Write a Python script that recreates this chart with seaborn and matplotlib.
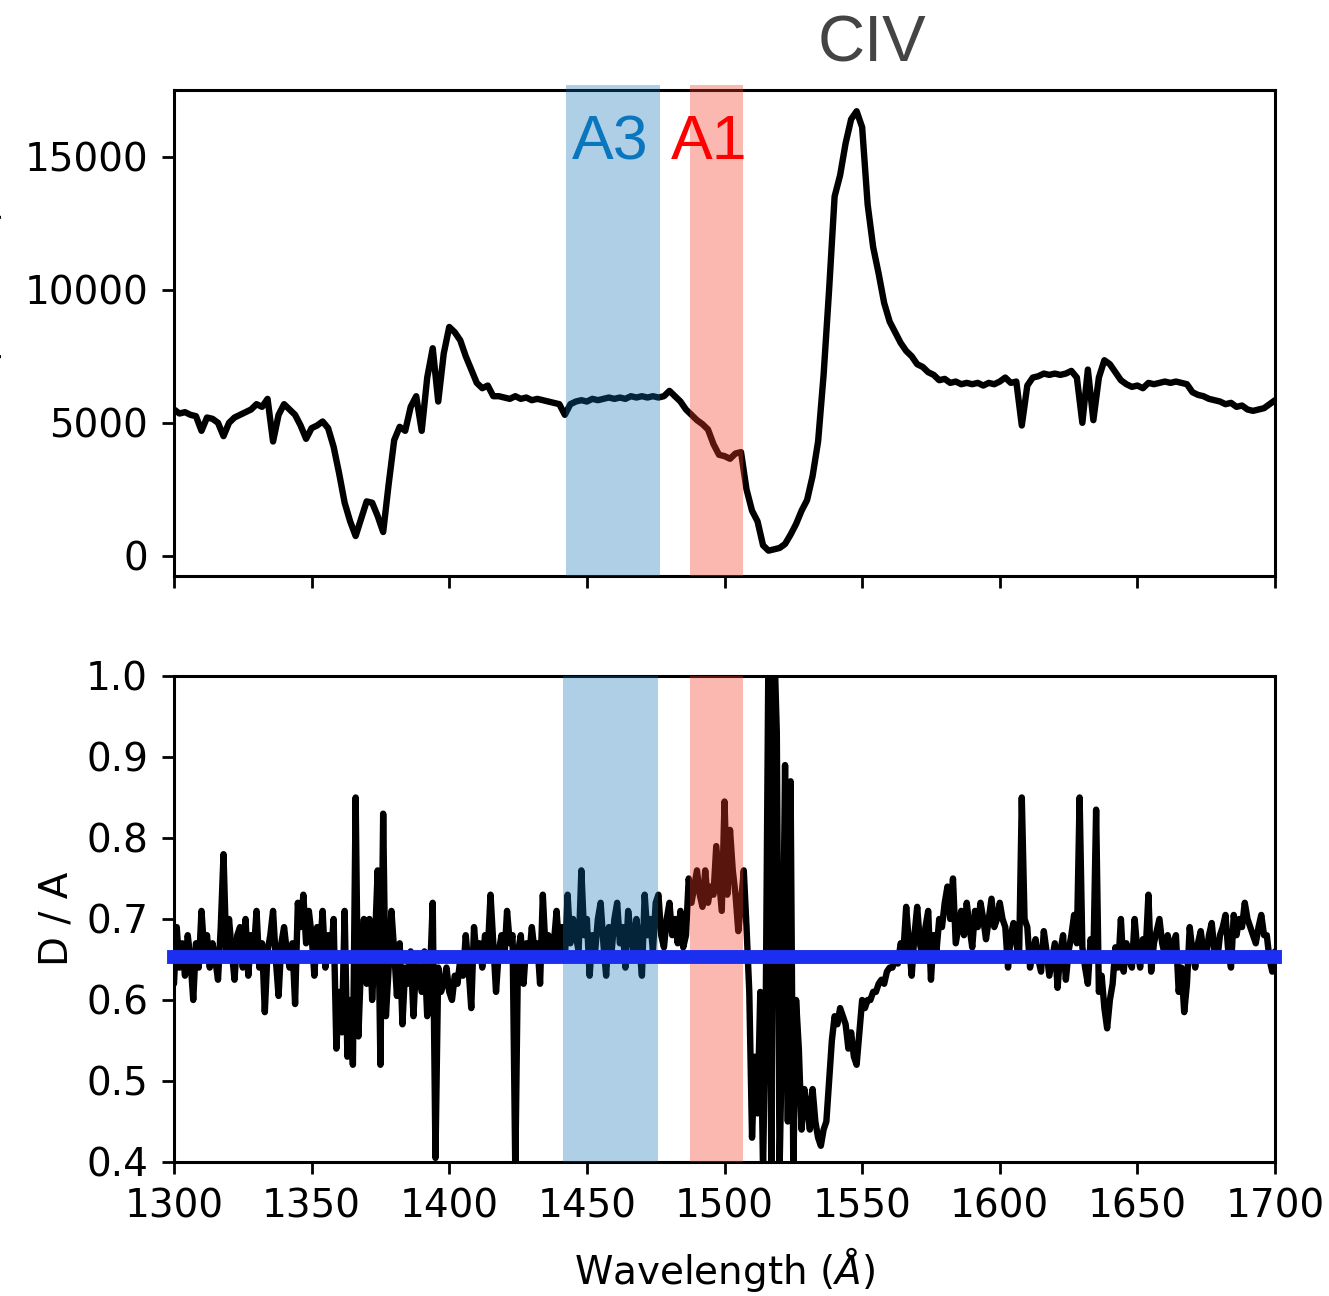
import numpy as np
import matplotlib
matplotlib.use('Agg')
import matplotlib.pyplot as plt
import seaborn as sns

# spectrum (top panel), sampled every 2 A
wave_top = np.arange(1300, 1701, 2)
flux = np.array([
    5500, 5350, 5400, 5300, 5250, 4700, 5200, 5150, 5000, 4500,
    5000, 5200, 5300, 5400, 5500, 5700, 5600, 5900, 4300, 5300,
    5700, 5500, 5300, 4900, 4400, 4800, 4900, 5050, 4800, 4100,
    3100, 2000, 1300, 750, 1400, 2050, 2000, 1500, 900, 2700,
    4350, 4850, 4700, 5600, 6000, 4700, 6700, 7800, 5800, 7600,
    8600, 8400, 8100, 7500, 7000, 6500, 6300, 6400, 6000, 6000,
    5950, 5900, 6000, 5900, 5950, 5850, 5900, 5850, 5800, 5750,
    5700, 5300, 5700, 5800, 5850, 5800, 5900, 5850, 5900, 5950,
    5900, 5950, 5900, 6000, 5950, 6000, 5950, 6000, 5950, 6000,
    6200, 6000, 5800, 5500, 5300, 5100, 4950, 4750, 4200, 3800,
    3750, 3650, 3850, 3900, 2500, 1700, 1300, 400, 200, 250,
    300, 450, 800, 1200, 1700, 2100, 3000, 4300, 6800, 10000,
    13500, 14300, 15500, 16400, 16700, 16100, 13200, 11600, 10600, 9500,
    8800, 8400, 8000, 7700, 7500, 7200, 7100, 6900, 6800, 6600,
    6650, 6500, 6550, 6450, 6500, 6450, 6500, 6400, 6500, 6450,
    6550, 6700, 6500, 6550, 4900, 6400, 6700, 6750, 6850, 6800,
    6850, 6800, 6850, 6950, 6700, 5000, 7000, 5100, 6700, 7350,
    7200, 6900, 6600, 6450, 6350, 6400, 6300, 6500, 6450, 6500,
    6550, 6500, 6550, 6500, 6450, 6150, 6050, 6000, 5900, 5850,
    5800, 5700, 5750, 5600, 5650, 5500, 5450, 5500, 5550, 5700,
    5850,
])

# D / A ratio (bottom panel), sampled every 1 A
wave_bot = np.arange(1300, 1701, 1)
ratio = np.array([
    0.62, 0.69, 0.64, 0.67, 0.63, 0.68, 0.65, 0.60, 0.67, 0.64, 0.71, 0.66, 0.68, 0.64, 0.67, 0.65, 0.625, 0.69, 0.78, 0.66,
    0.70, 0.66, 0.625, 0.68, 0.69, 0.64, 0.70, 0.63, 0.68, 0.66, 0.71, 0.64, 0.67, 0.585, 0.66, 0.68, 0.71, 0.65, 0.605, 0.67,
    0.69, 0.66, 0.64, 0.67, 0.595, 0.72, 0.69, 0.73, 0.67, 0.71, 0.68, 0.63, 0.69, 0.66, 0.71, 0.64, 0.68, 0.65, 0.70, 0.54,
    0.61, 0.56, 0.71, 0.53, 0.60, 0.52, 0.85, 0.555, 0.65, 0.70, 0.62, 0.70, 0.60, 0.67, 0.76, 0.52, 0.83, 0.58, 0.64, 0.71,
    0.66, 0.605, 0.67, 0.57, 0.64, 0.62, 0.66, 0.58, 0.65, 0.63, 0.61, 0.66, 0.58, 0.63, 0.72, 0.405, 0.64, 0.61, 0.62, 0.64,
    0.61, 0.60, 0.63, 0.62, 0.65, 0.63, 0.68, 0.64, 0.59, 0.69, 0.65, 0.67, 0.64, 0.68, 0.66, 0.73, 0.67, 0.61, 0.66, 0.68,
    0.65, 0.71, 0.67, 0.68, 0.39, 0.66, 0.68, 0.62, 0.67, 0.65, 0.69, 0.66, 0.67, 0.62, 0.73, 0.66, 0.68, 0.65, 0.67, 0.71,
    0.66, 0.69, 0.65, 0.73, 0.67, 0.70, 0.68, 0.66, 0.76, 0.68, 0.70, 0.63, 0.68, 0.66, 0.70, 0.72, 0.67, 0.63, 0.69, 0.66,
    0.70, 0.72, 0.67, 0.69, 0.64, 0.71, 0.68, 0.66, 0.70, 0.67, 0.63, 0.73, 0.68, 0.70, 0.66, 0.72, 0.73, 0.68, 0.665, 0.70,
    0.72, 0.68, 0.70, 0.67, 0.71, 0.665, 0.68, 0.75, 0.72, 0.74, 0.76, 0.73, 0.715, 0.76, 0.72, 0.74, 0.73, 0.79, 0.75, 0.71,
    0.845, 0.73, 0.81, 0.76, 0.73, 0.685, 0.72, 0.76, 0.69, 0.61, 0.43, 0.53, 0.46, 0.61, 0.39, 0.60, 1.05, 0.39, 1.05, 0.93,
    0.39, 0.57, 0.89, 0.45, 0.87, 0.39, 0.60, 0.54, 0.44, 0.49, 0.47, 0.44, 0.49, 0.45, 0.43, 0.42, 0.44, 0.45, 0.50, 0.55,
    0.58, 0.57, 0.59, 0.58, 0.57, 0.54, 0.56, 0.53, 0.52, 0.56, 0.60, 0.59, 0.60, 0.60, 0.61, 0.61, 0.62, 0.625, 0.62, 0.635,
    0.64, 0.64, 0.65, 0.645, 0.67, 0.66, 0.715, 0.67, 0.63, 0.68, 0.715, 0.67, 0.65, 0.69, 0.71, 0.625, 0.68, 0.66, 0.70, 0.69,
    0.72, 0.74, 0.70, 0.75, 0.67, 0.69, 0.71, 0.68, 0.72, 0.69, 0.665, 0.71, 0.69, 0.72, 0.70, 0.675, 0.70, 0.725, 0.69, 0.70,
    0.72, 0.70, 0.69, 0.64, 0.68, 0.695, 0.67, 0.65, 0.85, 0.70, 0.69, 0.64, 0.66, 0.675, 0.65, 0.635, 0.685, 0.66, 0.63, 0.65,
    0.67, 0.615, 0.66, 0.68, 0.625, 0.66, 0.68, 0.705, 0.67, 0.85, 0.665, 0.64, 0.62, 0.675, 0.65, 0.835, 0.61, 0.63, 0.59, 0.565,
    0.60, 0.62, 0.665, 0.64, 0.70, 0.635, 0.67, 0.65, 0.64, 0.70, 0.66, 0.64, 0.675, 0.66, 0.73, 0.635, 0.67, 0.685, 0.70, 0.67,
    0.655, 0.68, 0.66, 0.67, 0.68, 0.61, 0.64, 0.585, 0.62, 0.69, 0.66, 0.64, 0.67, 0.685, 0.66, 0.655, 0.68, 0.695, 0.66, 0.65,
    0.68, 0.69, 0.705, 0.66, 0.64, 0.705, 0.68, 0.70, 0.69, 0.72, 0.70, 0.69, 0.68, 0.67, 0.69, 0.705, 0.68, 0.68, 0.65, 0.635,
    0.66,
])

mean_ratio = 0.653
a3_top = (1442.4, 1476.6)
a1_top = (1487.5, 1506.7)
a3_bot = (1441.3, 1475.8)
a1_bot = (1487.5, 1506.7)

blue_span = '#0a6eb0'
red_span = '#f53c26'

sns.set_style('ticks')
plt.rcParams['font.family'] = ['DejaVu Sans']
plt.rcParams.update({
    'axes.edgecolor': 'black', 'axes.linewidth': 1.1,
    'xtick.color': 'black', 'ytick.color': 'black',
    'xtick.major.size': 4.3, 'ytick.major.size': 4.3,
    'xtick.major.width': 1.0, 'ytick.major.width': 1.0,
    'xtick.major.pad': 5, 'ytick.major.pad': 5,
    'xtick.labelsize': 14, 'ytick.labelsize': 14,
    'axes.labelsize': 14, 'axes.labelcolor': 'black', 'text.color': 'black',
})

fig, (ax1, ax2) = plt.subplots(2, 1, sharex=True, figsize=(6.645, 6.48), dpi=200)
plt.subplots_adjust(left=0.1309, right=0.9594, top=0.9306, bottom=0.1034, hspace=0.2058)

sns.lineplot(x=wave_top, y=flux, ax=ax1, color='black', linewidth=2.3)
ax1.axvspan(*a3_top, ymin=0, ymax=1.01, color=blue_span, alpha=0.33, lw=0, zorder=3, clip_on=False)
ax1.axvspan(*a1_top, ymin=0, ymax=1.01, color=red_span, alpha=0.36, lw=0, zorder=3, clip_on=False)
ax1.set_ylim(-750, 17500)
ax1.set_yticks([0, 5000, 10000, 15000])
# the reference crops this label at the left edge of the figure
ax1.set_ylabel('Flux (counts)', labelpad=7)
ax1.text(1458.4, 14900, 'A3', color='#0a76be', fontsize=22.5, ha='center', va='baseline',
         family=['Liberation Sans'], zorder=4)
ax1.text(1494.3, 14900, 'A1', color='#ff0000', fontsize=22.5, ha='center', va='baseline',
         family=['Liberation Sans'], zorder=4)
ax1.text(1553.5, 18570, 'CIV', color='#444444', fontsize=23.5, ha='center', va='baseline',
         family=['Liberation Sans'])

sns.lineplot(x=wave_bot, y=ratio, ax=ax2, color='black', linewidth=2.3)
ax2.axvspan(*a3_bot, color=blue_span, alpha=0.33, lw=0, zorder=3)
ax2.axvspan(*a1_bot, color=red_span, alpha=0.36, lw=0, zorder=3)
ax2.axhline(mean_ratio, color='#1a2ff0', linewidth=5, zorder=4, clip_on=False,
            solid_capstyle='projecting')
ax2.set_ylim(0.4, 1.0)
ax2.set_yticks([0.4, 0.5, 0.6, 0.7, 0.8, 0.9, 1.0])
ax2.set_xlim(1300, 1700)
ax2.set_xticks(np.arange(1300, 1701, 50))
ax2.set_ylabel('D / A')
ax2.set_xlabel(r'Wavelength ($\AA$)', labelpad=7)

plt.savefig('out.png', dpi=200)
